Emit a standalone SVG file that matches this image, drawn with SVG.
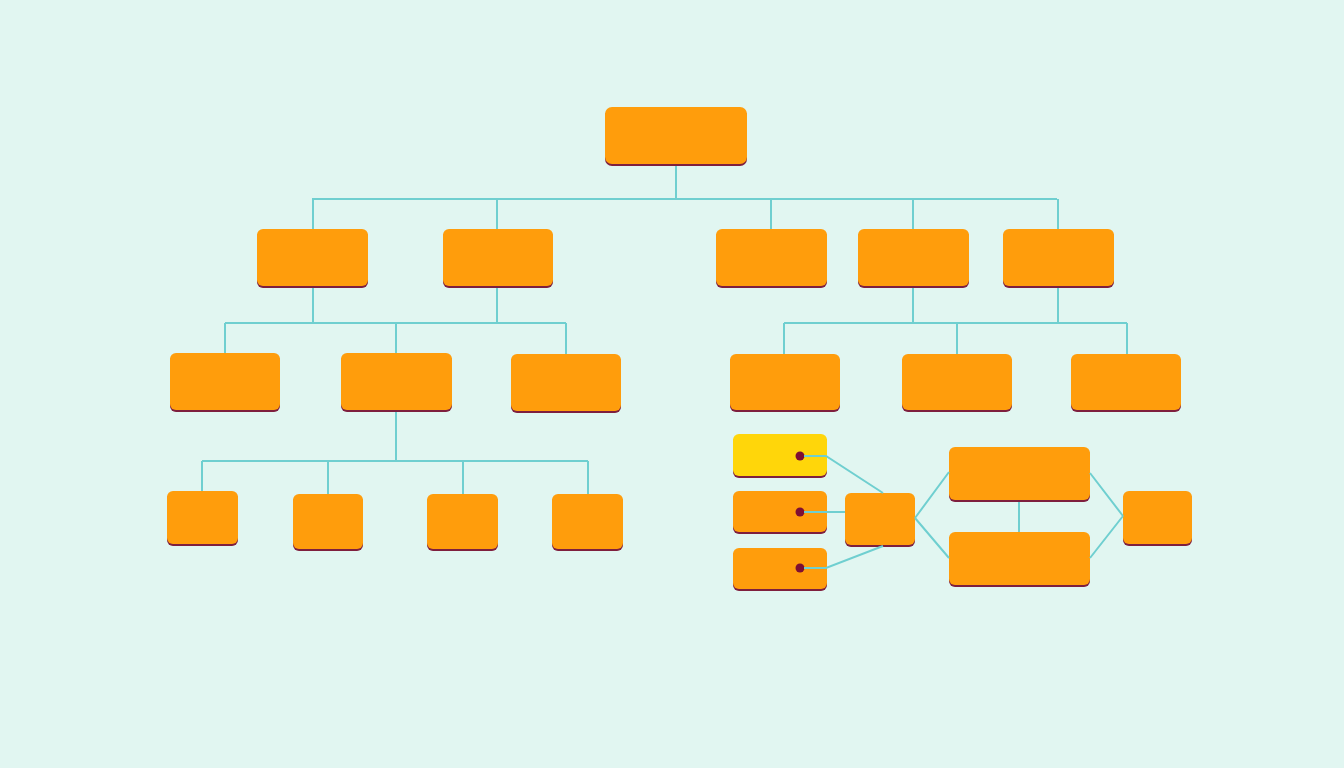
<svg xmlns="http://www.w3.org/2000/svg" width="1344" height="768" viewBox="0 0 1344 768">
<style>
.sh{fill:#7E1F3E}
.n{fill:#FF9D0C}
.y{fill:#FFD60A}
.c{fill:none;stroke:#6FCFD0;stroke-width:2}
.d{fill:#7E0F33}
</style>
<rect width="1344" height="768" fill="#E1F6F1"/>
<g id="root"><rect class="sh" x="605" y="109" width="142" height="57" rx="7"/><rect class="n" x="605" y="107" width="142" height="57" rx="7"/></g>
<g id="a1"><rect class="sh" x="257" y="231" width="111" height="57" rx="6"/><rect class="n" x="257" y="229" width="111" height="57" rx="6"/></g>
<g id="a2"><rect class="sh" x="443" y="231" width="110" height="57" rx="6"/><rect class="n" x="443" y="229" width="110" height="57" rx="6"/></g>
<g id="a3"><rect class="sh" x="716" y="231" width="111" height="57" rx="6"/><rect class="n" x="716" y="229" width="111" height="57" rx="6"/></g>
<g id="a4"><rect class="sh" x="858" y="231" width="111" height="57" rx="6"/><rect class="n" x="858" y="229" width="111" height="57" rx="6"/></g>
<g id="a5"><rect class="sh" x="1003" y="231" width="111" height="57" rx="6"/><rect class="n" x="1003" y="229" width="111" height="57" rx="6"/></g>
<g id="b1"><rect class="sh" x="170" y="355" width="110" height="57" rx="6"/><rect class="n" x="170" y="353" width="110" height="57" rx="6"/></g>
<g id="b2"><rect class="sh" x="341" y="355" width="111" height="57" rx="6"/><rect class="n" x="341" y="353" width="111" height="57" rx="6"/></g>
<g id="b3"><rect class="sh" x="511" y="356" width="110" height="57" rx="6"/><rect class="n" x="511" y="354" width="110" height="57" rx="6"/></g>
<g id="b4"><rect class="sh" x="730" y="356" width="110" height="56" rx="6"/><rect class="n" x="730" y="354" width="110" height="56" rx="6"/></g>
<g id="b5"><rect class="sh" x="902" y="356" width="110" height="56" rx="6"/><rect class="n" x="902" y="354" width="110" height="56" rx="6"/></g>
<g id="b6"><rect class="sh" x="1071" y="356" width="110" height="56" rx="6"/><rect class="n" x="1071" y="354" width="110" height="56" rx="6"/></g>
<g id="c1"><rect class="sh" x="167" y="493" width="71" height="53" rx="6"/><rect class="n" x="167" y="491" width="71" height="53" rx="6"/></g>
<g id="c2"><rect class="sh" x="293" y="496" width="70" height="55" rx="6"/><rect class="n" x="293" y="494" width="70" height="55" rx="6"/></g>
<g id="c3"><rect class="sh" x="427" y="496" width="71" height="55" rx="6"/><rect class="n" x="427" y="494" width="71" height="55" rx="6"/></g>
<g id="c4"><rect class="sh" x="552" y="496" width="71" height="55" rx="6"/><rect class="n" x="552" y="494" width="71" height="55" rx="6"/></g>
<g id="t1"><rect class="sh" x="733" y="436" width="94" height="42" rx="6"/><rect class="y" x="733" y="434" width="94" height="42" rx="6"/><circle class="d" cx="800" cy="456" r="4.5"/></g>
<g id="t2"><rect class="sh" x="733" y="493" width="94" height="41" rx="6"/><rect class="n" x="733" y="491" width="94" height="41" rx="6"/><circle class="d" cx="800" cy="512" r="4.5"/></g>
<g id="t3"><rect class="sh" x="733" y="550" width="94" height="41" rx="6"/><rect class="n" x="733" y="548" width="94" height="41" rx="6"/><circle class="d" cx="800" cy="568" r="4.5"/></g>
<g id="m"><rect class="sh" x="845" y="495" width="70" height="52" rx="6"/><rect class="n" x="845" y="493" width="70" height="52" rx="6"/></g>
<g id="p1"><rect class="sh" x="949" y="449" width="141" height="53" rx="6"/><rect class="n" x="949" y="447" width="141" height="53" rx="6"/></g>
<g id="p2"><rect class="sh" x="949" y="534" width="141" height="53" rx="6"/><rect class="n" x="949" y="532" width="141" height="53" rx="6"/></g>
<g id="r"><rect class="sh" x="1123" y="493" width="69" height="53" rx="6"/><rect class="n" x="1123" y="491" width="69" height="53" rx="6"/></g>
<g id="connectors" class="c">
<path d="M676 166V199M312 199H1057M313 199V229M497 199V229M771 199V229M913 199V229M1058 199V229"/>
<path d="M313 288V323M497 288V323M225 323H566M225 323V353M396 323V353M566 323V354"/>
<path d="M396 412V461M202 461H588M202 461V491M328 461V494M463 461V494M588 461V494"/>
<path d="M913 288V323M1058 288V323M784 323H1127M784 323V354M957 323V354M1127 323V354"/>
<path d="M804 456H826L883 493M804 512H845M804 568H826L883 546"/>
<path d="M915 518L949 472M915 518L949 558M1019 502V532M1090 473L1123 516M1090 558L1123 516"/>
</g>
</svg>
